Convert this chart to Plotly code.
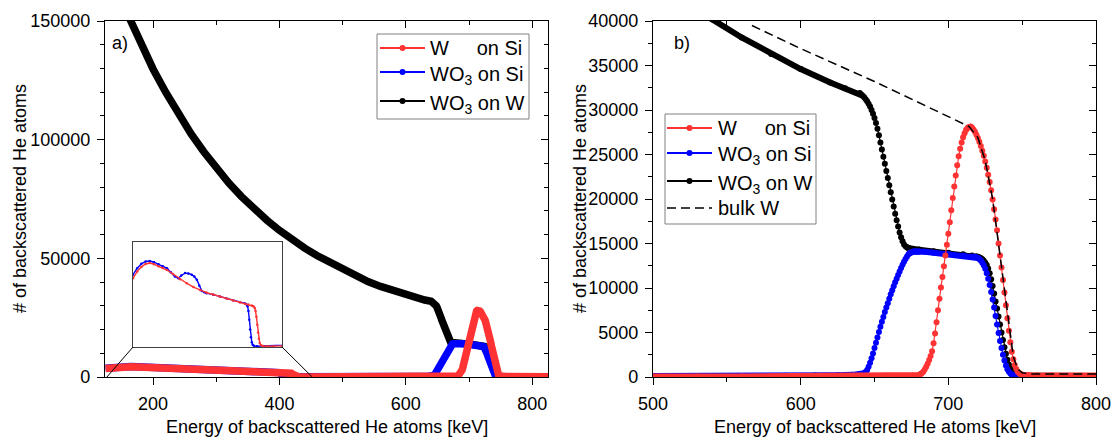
import plotly.graph_objects as go

# ---------------- RBS spectra: energy [keV] and counts ----------------
# W on Si
w_si_energy = ([125, 135, 145, 155, 165, 175, 186, 196, 206, 220, 237, 253, 269, 285, 300,
                316, 332, 348, 364, 380, 392, 400, 408, 412, 415, 417, 419, 421, 423, 425,
                427, 430, 435, 445, 460, 480, 500, 530, 560, 600, 630, 650, 660, 670, 676]
               + list(range(680, 751))
               + [755, 760, 770, 790, 810, 826])
w_si_counts = ([3540, 3880, 4120, 4270, 4320, 4260, 4150, 4060, 3960, 3760, 3490, 3280, 3080, 2930, 2800,
                2700, 2600, 2500, 2390, 2300, 2230, 2180, 2130, 2090, 2000, 1850, 1550, 1150, 750, 420,
                200, 90, 50, 35, 30, 30, 40, 50, 60, 70, 85, 100, 115, 140, 170]
               + [220, 300, 410, 600, 850, 1150, 1500, 1900, 2350, 2900,
                  3800, 4900, 6150, 7500, 8800, 10050, 11250, 12450, 13650, 14850,
                  16100, 17400, 18750, 20100, 21400, 22650, 23800, 24800, 25650, 26350,
                  26950, 27400, 27750, 27980, 28100, 28120, 28020, 27800, 27550, 27220,
                  26850, 26420, 25950, 25420, 24850, 24200, 23500, 22730, 21900, 20970,
                  19950, 18850, 17700, 16500, 15000, 13650, 12300, 10900, 9500, 8050,
                  6600, 5200, 3900, 2850, 2000, 1350, 900, 600, 420, 310,
                  250]
               + [190, 170, 160, 150, 150, 150])

# WO3 on Si
wo3_si_energy = ([125, 135, 145, 155, 165, 175, 186, 196, 206, 215, 225, 233, 240, 249, 257,
                  265, 271, 277, 283, 289, 295, 300, 316, 332, 348, 364, 380, 392, 395, 398,
                  400, 402, 404, 406, 408, 410, 413, 420, 440, 460, 480, 500, 530, 560, 590,
                  610, 625, 635]
                 + list(range(640, 681))
                 + [684, 690, 700, 710, 716]
                 + list(range(718, 751))
                 + [760, 780, 800, 826])
wo3_si_counts = ([3720, 4050, 4280, 4400, 4420, 4360, 4250, 4150, 4050, 3850, 3620, 3540, 3680, 3800, 3780,
                  3720, 3620, 3460, 3150, 2880, 2810, 2770, 2690, 2600, 2500, 2390, 2300, 2240, 2200, 2100,
                  1850, 1400, 900, 500, 250, 120, 60, 40, 40, 45, 55, 70, 90, 110, 140,
                  170, 200, 240]
                 + [280, 300, 340, 410, 550, 800, 1150, 1600, 2100, 2650,
                    3250, 3850, 4450, 5050, 5650, 6200, 6750, 7300, 7800, 8300,
                    8800, 9300, 9750, 10200, 10650, 11050, 11450, 11850, 12250, 12600,
                    12950, 13250, 13550, 13800, 13950, 14030, 14070, 14090, 14100, 14100,
                    14100]
                 + [14060, 13970, 13820, 13650, 13550]
                 + [13500, 13450, 13380, 13250, 13080, 12850, 12550, 12150, 11650, 11050,
                    10350, 9550, 8700, 7800, 6850, 5900, 4950, 4050, 3250, 2500,
                    1850, 1300, 880, 580, 380, 250, 170, 120, 90, 80,
                    70, 65, 60]
                 + [50, 50, 50, 50])

# WO3 on W
wo3_w_energy = ([150, 164, 180, 200, 220, 240, 260, 280, 300, 320, 340, 360, 380, 400, 420,
                 440, 460, 480, 500, 520, 540, 560, 580, 600, 620, 630]
                + list(range(640, 677))
                + [680, 690, 700, 710, 716]
                + list(range(719, 751))
                + [760, 780, 800, 826])
wo3_w_counts = ([158500, 150000, 140500, 129800, 120000, 111000, 102500, 95000, 88000, 81700,
                 76000, 70800, 66100, 61800, 57900, 54300, 51100, 48200, 45500, 42800,
                 40200, 38150, 36300, 34600, 33100, 32450]
                + [31900, 31750, 31600, 31420, 31220, 30980, 30700, 30380, 30000, 29580,
                   29100, 28550, 27900, 27150, 26350, 25550, 24750, 23950, 23150, 22350,
                   21550, 20750, 19950, 19150, 18350, 17600, 16900, 16250, 15700, 15250,
                   14900, 14680, 14550, 14480, 14440, 14420, 14400]
                + [14320, 14120, 13960, 13780, 13650]
                + [13560, 13500, 13430, 13340, 13220, 13060, 12850, 12580, 12200, 11650,
                   10980, 10220, 9380, 8480, 7700, 6800, 5900, 5000, 4150, 3350,
                   2600, 1950, 1400, 980, 680, 480, 350, 270, 220, 190,
                   170, 160]
                + [130, 120, 120, 120])

# bulk W reference
bulk_w_energy = [567, 600, 650, 690, 714, 720, 725, 730, 735, 740, 744, 747, 750, 755, 770, 800, 826]
bulk_w_counts = [39500, 36900, 33200, 30100, 28150, 26900, 24300, 20000, 13700, 6800,
                 2300, 900, 480, 350, 320, 310, 310]

# ---------------- styling ----------------
FONT = "Liberation Sans, Arial, sans-serif"
RED, BLUE, BLACK = "#ff3333", "#0000ff", "#000000"
W_PX, H_PX = 1114, 437

LEFT_PX, RIGHT_PX = (105, 548), (653, 1096)
TOP_PX, BOTTOM_PX = 21, 377
INSET_PX = (133, 282, 242, 347)          # left, right, top, bottom

LEFT_XR, LEFT_YR = [124, 825], [0, 150000]
RIGHT_XR, RIGHT_YR = [500, 800], [0, 40000]
INSET_XR, INSET_YR = [125, 480], [0, 5400]
ZOOM_WINDOW = (127, 452)
BULK_DASH = "9px,5px"

W_ON_SI = "W\u00a0\u00a0\u00a0\u00a0\u00a0on Si"
WO3_ON_SI = "WO<sub>3</sub> on Si"
WO3_ON_W = "WO<sub>3</sub> on W"


def fx(p):
    return p / W_PX


def fy(p):
    return 1 - p / H_PX


def shallow_runs(xs, ys, kx, ky, limit=1.0):
    """Split a curve into runs whose on-screen slope is shallow."""
    bx, by, inside = [], [], False
    for i in range(len(xs) - 1):
        steep = abs((ys[i + 1] - ys[i]) * ky) > limit * abs((xs[i + 1] - xs[i]) * kx)
        if not steep:
            if not inside:
                if bx:
                    bx.append(None)
                    by.append(None)
                bx.append(xs[i])
                by.append(ys[i])
            bx.append(xs[i + 1])
            by.append(ys[i + 1])
            inside = True
        else:
            inside = False
    return bx, by


# drawing order: black at the bottom, red on top
series = [
    (WO3_ON_W, wo3_w_energy, wo3_w_counts, BLACK),
    (WO3_ON_SI, wo3_si_energy, wo3_si_counts, BLUE),
    (W_ON_SI, w_si_energy, w_si_counts, RED),
]

fig = go.Figure()

# ----- panel a): full spectra drawn as thick bands -----
for name, e, c, col in series:
    fig.add_trace(go.Scatter(x=e, y=c, mode="lines", line=dict(color=col, width=7.5),
                             xaxis="x", yaxis="y", showlegend=False, hoverinfo="skip"))

# ----- inset of panel a): low-energy part of the Si-substrate spectra -----
for name, e, c, col in series[1:]:
    fig.add_trace(go.Scatter(x=e, y=c, mode="lines+markers", line=dict(color=col, width=1.4),
                             marker=dict(color=col, size=2.5), xaxis="x3", yaxis="y3",
                             showlegend=False, hoverinfo="skip"))

# ----- panel b): high-energy edge, individual channels as dots -----
kx = (RIGHT_PX[1] - RIGHT_PX[0]) / (RIGHT_XR[1] - RIGHT_XR[0])
ky = (BOTTOM_PX - TOP_PX) / (RIGHT_YR[1] - RIGHT_YR[0])
for name, e, c, col in series:
    bx, by = shallow_runs(e, c, kx, ky)
    fig.add_trace(go.Scatter(x=bx, y=by, mode="lines", line=dict(color=col, width=6),
                             xaxis="x2", yaxis="y2", showlegend=False, hoverinfo="skip"))
    fig.add_trace(go.Scatter(x=e, y=c, mode="lines+markers", name=name,
                             line=dict(color=col, width=1.2),
                             marker=dict(color=col, size=6, line=dict(width=0)),
                             xaxis="x2", yaxis="y2", showlegend=False, hoverinfo="skip"))

fig.add_trace(go.Scatter(x=bulk_w_energy, y=bulk_w_counts, mode="lines", name="bulk W",
                         line=dict(color=BLACK, width=1.5, dash=BULK_DASH),
                         xaxis="x2", yaxis="y2", showlegend=False, hoverinfo="skip"))

# empty traces that carry the mirrored (inward-ticked) axes
for xa, ya in (("x4", "y4"), ("x5", "y5")):
    fig.add_trace(go.Scatter(x=[], y=[], xaxis=xa, yaxis=ya, showlegend=False, hoverinfo="skip"))


def main_axis(dom, rng, dtick, minor, anchor):
    return dict(domain=dom, range=rng, dtick=dtick, tick0=0, tickformat="d",
                ticks="outside", ticklen=7, tickwidth=1.2, tickcolor="black",
                showline=True, linecolor="black", linewidth=1.2, mirror=True,
                showgrid=False, zeroline=False, anchor=anchor, automargin=False,
                ticklabelstandoff=3,
                tickfont=dict(size=18, color="black", family=FONT),
                minor=dict(dtick=minor, tick0=0, ticks="outside", ticklen=4,
                           tickwidth=1.2, tickcolor="black", showgrid=False))


def mirror_axis(base, anchor, side, rng, dtick, minor):
    return dict(overlaying=base, anchor=anchor, side=side, range=rng, dtick=dtick, tick0=0,
                ticks="inside", ticklen=7, tickwidth=1.2, tickcolor="black", automargin=False,
                showticklabels=False, showline=False, showgrid=False, zeroline=False,
                minor=dict(dtick=minor, tick0=0, ticks="inside", ticklen=4,
                           tickwidth=1.2, tickcolor="black", showgrid=False))


def inset_axis(dom, rng, anchor):
    return dict(domain=dom, range=rng, anchor=anchor, automargin=False,
                showline=True, mirror=True, linecolor="#404040", linewidth=1,
                ticks="", showticklabels=False, showgrid=False, zeroline=False)


ydom = [fy(BOTTOM_PX), fy(TOP_PX)]
left_dom = [fx(LEFT_PX[0]), fx(LEFT_PX[1])]
right_dom = [fx(RIGHT_PX[0]), fx(RIGHT_PX[1])]

layout_axes = dict(
    xaxis=main_axis(left_dom, LEFT_XR, 200, 100, "y"),
    yaxis=main_axis(ydom, LEFT_YR, 50000, 10000, "x"),
    xaxis2=main_axis(right_dom, RIGHT_XR, 100, 50, "y2"),
    yaxis2=main_axis(ydom, RIGHT_YR, 5000, 2500, "x2"),
    xaxis3=inset_axis([fx(INSET_PX[0]), fx(INSET_PX[1])], INSET_XR, "y3"),
    yaxis3=inset_axis([fy(INSET_PX[3]), fy(INSET_PX[2])], INSET_YR, "x3"),
    xaxis4=mirror_axis("x", "y", "top", LEFT_XR, 200, 100),
    yaxis4=mirror_axis("y", "x", "right", LEFT_YR, 50000, 10000),
    xaxis5=mirror_axis("x2", "y2", "top", RIGHT_XR, 100, 50),
    yaxis5=mirror_axis("y2", "x2", "right", RIGHT_YR, 5000, 2500),
)


# connector lines from the inset to the zoomed energy window
def main_px(e):
    return LEFT_PX[0] + (e - LEFT_XR[0]) / (LEFT_XR[1] - LEFT_XR[0]) * (LEFT_PX[1] - LEFT_PX[0])


shapes = [
    dict(type="line", xref="paper", yref="paper",
         x0=fx(INSET_PX[0]), y0=fy(INSET_PX[3]), x1=fx(main_px(ZOOM_WINDOW[0])), y1=fy(BOTTOM_PX),
         line=dict(color="black", width=1)),
    dict(type="line", xref="paper", yref="paper",
         x0=fx(INSET_PX[1]), y0=fy(INSET_PX[3]), x1=fx(main_px(ZOOM_WINDOW[1])), y1=fy(BOTTOM_PX),
         line=dict(color="black", width=1)),
]

x_title = "Energy of backscattered He atoms [keV]"
y_title = "# of backscattered He atoms"
annotations = []
for (l, r), tag, tag_px, ytx in ((LEFT_PX, "a)", 120, 20), (RIGHT_PX, "b)", 682, 580)):
    annotations.append(dict(text=x_title, x=fx((l + r) / 2), y=fy(427), xref="paper", yref="paper",
                            showarrow=False, xanchor="center", yanchor="middle",
                            font=dict(size=18, family=FONT, color="black")))
    annotations.append(dict(text=y_title, x=fx(ytx), y=fy((TOP_PX + BOTTOM_PX) / 2),
                            xref="paper", yref="paper", showarrow=False, textangle=-90,
                            xanchor="center", yanchor="middle",
                            font=dict(size=18, family=FONT, color="black")))
    annotations.append(dict(text=tag, x=fx(tag_px), y=fy(43), xref="paper", yref="paper",
                            showarrow=False, xanchor="center", yanchor="middle",
                            font=dict(size=18, family=FONT, color="black")))


# ----- legends: framed boxes with line/dot keys and labels -----
def add_legend(box, sym_x, text_x, entries):
    x0, y0, x1, y1 = box
    shapes.append(dict(type="rect", xref="paper", yref="paper", x0=fx(x0), y0=fy(y1),
                       x1=fx(x1), y1=fy(y0), line=dict(color="#808080", width=1),
                       fillcolor="white", layer="above"))
    for label, col, dash, dot, ly in entries:
        shapes.append(dict(type="line", xref="paper", yref="paper",
                           x0=fx(sym_x[0]), x1=fx(sym_x[1]), y0=fy(ly), y1=fy(ly),
                           line=dict(color=col, width=2 if dot else 1.5, dash=dash)))
        if dot:
            cx = (sym_x[0] + sym_x[1]) / 2
            shapes.append(dict(type="circle", xref="paper", yref="paper",
                               x0=fx(cx - 3), x1=fx(cx + 3), y0=fy(ly + 3), y1=fy(ly - 3),
                               fillcolor=col, line=dict(color=col, width=0)))
        shift = 3 if "<sub>" in label else 0
        annotations.append(dict(text=label, x=fx(text_x), y=fy(ly + shift), xref="paper",
                                yref="paper", showarrow=False, xanchor="left", yanchor="middle",
                                borderpad=0, font=dict(size=20, family=FONT, color="black")))


add_legend((377, 34, 529, 119), (380, 425), 429,
           [(W_ON_SI, RED, "solid", True, 48),
            (WO3_ON_SI, BLUE, "solid", True, 72),
            (WO3_ON_W, BLACK, "solid", True, 101)])
add_legend((665, 114, 816, 224), (667, 712), 717,
           [(W_ON_SI, RED, "solid", True, 128),
            (WO3_ON_SI, BLUE, "solid", True, 153),
            (WO3_ON_W, BLACK, "solid", True, 181),
            ("bulk W", BLACK, BULK_DASH, False, 208)])

fig.update_layout(
    template="none",
    width=W_PX, height=H_PX, margin=dict(l=0, r=0, t=0, b=0, pad=0),
    paper_bgcolor="white", plot_bgcolor="white",
    font=dict(family=FONT, color="black"),
    showlegend=False,
    shapes=shapes, annotations=annotations,
    **layout_axes,
)

fig.write_html("out.html")
